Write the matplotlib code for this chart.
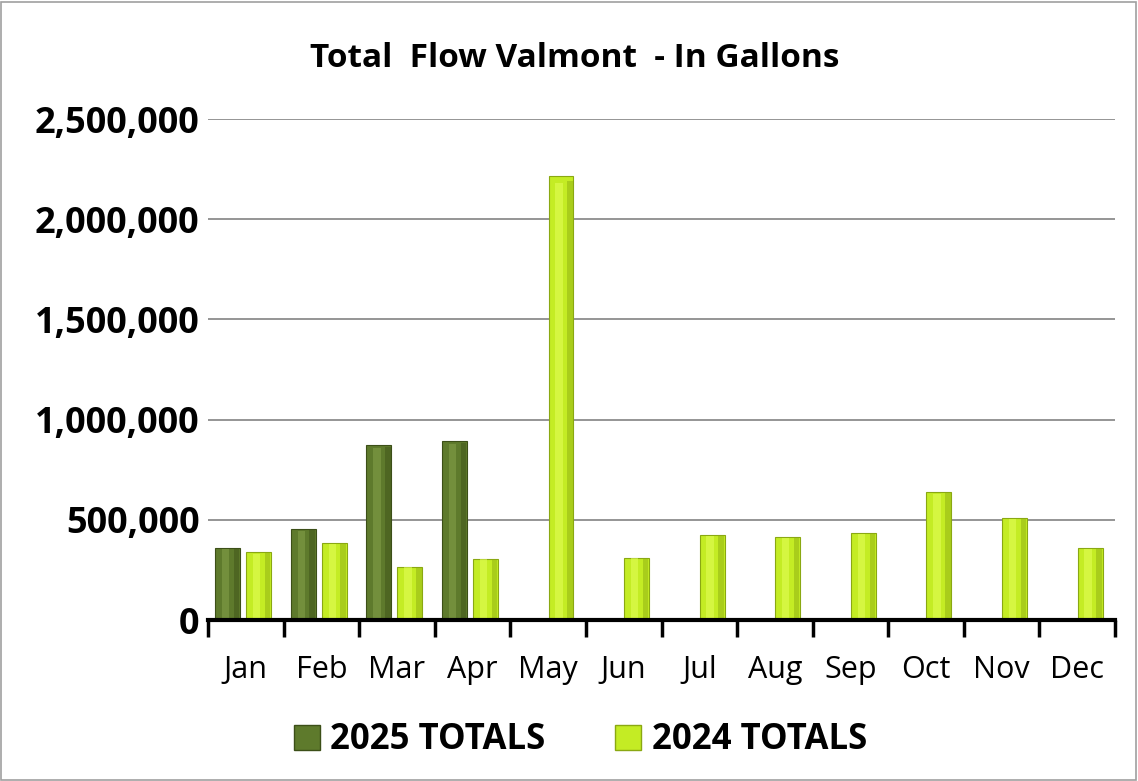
import matplotlib
matplotlib.use('Agg')
import matplotlib.pyplot as plt
import matplotlib.patches as mpatches
from matplotlib.ticker import FuncFormatter, FixedLocator
import numpy as np

plt.rcParams['font.family'] = ['Open Sans', 'DejaVu Sans']

months = ['Jan', 'Feb', 'Mar', 'Apr', 'May', 'Jun', 'Jul', 'Aug', 'Sep', 'Oct', 'Nov', 'Dec']
totals_2025 = [360000, 452000, 873000, 893000, 0, 0, 0, 0, 0, 0, 0, 0]
totals_2024 = [337000, 386000, 267000, 307000, 2215000, 312000, 426000, 416000, 436000, 640000, 510000, 361000]
yticks = [0, 500000, 1000000, 1500000, 2000000, 2500000]

dark = '#5e7a2c'
dark_hi = '#86a24a'
light = '#c4ec24'
light_hi = '#e4ff5a'

fig = plt.figure(figsize=(11.38, 7.81), dpi=100)
ax = fig.add_axes([0.1828, 0.2061, 0.797, 0.6415])

x = np.arange(len(months))
w = 0.33


def draw_bars(offset, vals, col, hi, edge, label):
    vals = np.array(vals)
    mask = vals > 0
    ax.bar(x[mask] + offset, vals[mask], width=w, color=col, edgecolor=edge,
           linewidth=0.8, zorder=3, label=label)
    # darker right side + lighter stripe to fake the bevel
    ax.bar(x[mask] + offset + w * 0.36, vals[mask] * 0.99, width=w * 0.22, color=edge,
           alpha=0.45, linewidth=0, zorder=4)
    ax.bar(x[mask] + offset - w * 0.08, vals[mask] * 0.985, width=w * 0.3, color=hi,
           alpha=0.55, linewidth=0, zorder=4)


draw_bars(-0.24, totals_2025, dark, dark_hi, '#3c4f18', '2025 TOTALS')
draw_bars(0.17, totals_2024, light, light_hi, '#8aa812', '2024 TOTALS')

ax.set_xlim(-0.5, len(months) - 0.5)
ax.set_ylim(0, 2500000)
ax.set_yticks(yticks)
ax.yaxis.set_major_formatter(FuncFormatter(lambda v, p: '{:,.0f}'.format(v)))
ax.grid(axis='y', color='#8c8c8c', linewidth=1.3, zorder=0)
ax.tick_params(axis='y', length=0, pad=6, labelsize=26)
for t in ax.get_yticklabels():
    t.set_fontweight('bold')

ax.xaxis.set_major_locator(FixedLocator(np.arange(-0.5, len(months), 1.0)))
ax.set_xticklabels([])
ax.xaxis.set_minor_locator(FixedLocator(x))
ax.set_xticklabels(months, minor=True)
ax.tick_params(axis='x', which='major', length=12, width=2.5, color='black')
ax.tick_params(axis='x', which='minor', length=0, pad=25, labelsize=22)

for s in ['left', 'right', 'top']:
    ax.spines[s].set_visible(False)
ax.spines['bottom'].set_linewidth(3)
ax.spines['bottom'].set_zorder(5)

fig.text(0.505, 0.925, 'Total  Flow Valmont  - In Gallons', ha='center', va='center',
         fontsize=24, fontweight='bold')

handles = [mpatches.Patch(facecolor=dark, edgecolor='#3c4f18', label='2025 TOTALS'),
           mpatches.Patch(facecolor=light, edgecolor='#8aa812', label='2024 TOTALS')]
fig.legend(handles=handles, loc='center', bbox_to_anchor=(0.51, 0.052), ncol=2, frameon=False,
           prop={'size': 25, 'weight': 'bold'}, handlelength=0.75, handleheight=0.75,
           handletextpad=0.3, columnspacing=2.0)

fig.patches.append(mpatches.Rectangle((0.001, 0.001), 0.997, 0.997, transform=fig.transFigure,
                                      fill=False, edgecolor='#a0a0a0', linewidth=1.2))

fig.savefig('out.png', dpi=100)
